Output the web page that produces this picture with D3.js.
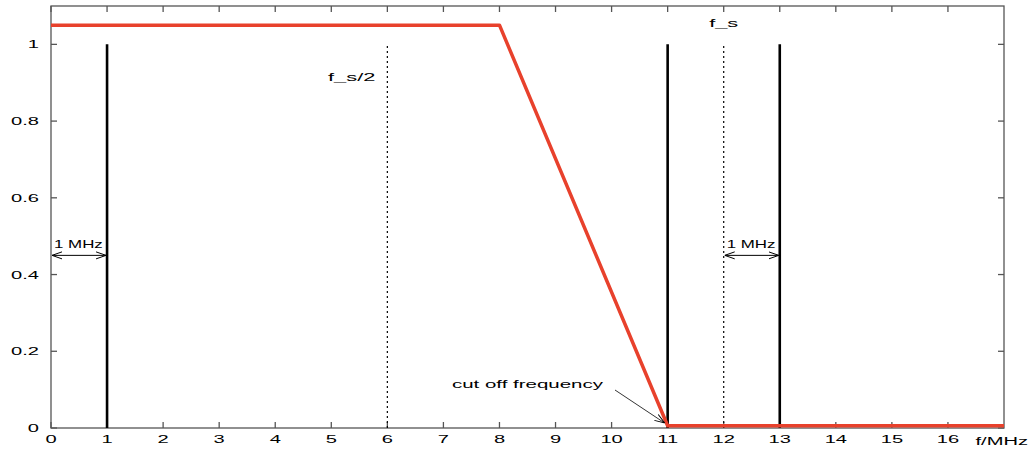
<!DOCTYPE html>
<html><head><meta charset="utf-8">
<script src="https://cdn.jsdelivr.net/npm/d3@7"></script>
<style>body{margin:0;background:#fff}svg{display:block}text{font-family:"Liberation Sans",Arial,sans-serif;font-size:11.5px;fill:#000}</style>
</head><body><svg id="c" width="1029" height="452"></svg>
<script>
const xTicks = [0,1,2,3,4,5,6,7,8,9,10,11,12,13,14,15,16];
const yTicks = [0,0.2,0.4,0.6,0.8,1];
const filterF = [0,8,11,17];
const filterA = [1.05,1.05,0.006,0.006];
const pulseF = [1,11,13];
const pulseA = [1,1,1];
const markF = [6,12];
const markLabels = ["f_s/2","f_s"];
const markLabelY = [0.915,1.055];
const spanFrom = [0,12];
const spanTo = [1,13];
const spanY = 0.45;
const spanLabel = "1 MHz";

const svg = d3.select("#c");
const m = {l:51,r:1004,t:6,b:428};
const x = d3.scaleLinear().domain([0,17]).range([m.l,m.r]);
const y = d3.scaleLinear().domain([0,1.1]).range([m.b,m.t]);
const SX = 1.75;
function txt(px,py,s,anchor,sx){
  return svg.append("g").attr("transform",`translate(${px},${py}) scale(${sx||SX},1)`)
    .append("text").attr("text-anchor",anchor||"start").text(s);
}

const defs = svg.append("defs");
defs.append("marker").attr("id","ah").attr("viewBox","0 0 10 10").attr("refX",10).attr("refY",5)
  .attr("markerWidth",10).attr("markerHeight",10).attr("markerUnits","userSpaceOnUse").attr("orient","auto-start-reverse")
  .append("path").attr("d","M0,1.5 L10,5 L0,8.5").attr("fill","none").attr("stroke","#000").attr("stroke-width",1);

// frame
svg.append("rect").attr("x",m.l).attr("y",m.t).attr("width",m.r-m.l).attr("height",m.b-m.t)
  .attr("fill","none").attr("stroke","#555").attr("stroke-width",1.3);

// ticks
const tl = 6;
const gx = svg.append("g");
xTicks.forEach(v=>{
  gx.append("line").attr("x1",x(v)).attr("x2",x(v)).attr("y1",m.b).attr("y2",m.b-tl).attr("stroke","#555").attr("stroke-width",1.3);
  gx.append("line").attr("x1",x(v)).attr("x2",x(v)).attr("y1",m.t).attr("y2",m.t+tl).attr("stroke","#555").attr("stroke-width",1.3);
  txt(x(v),443,d3.format("d")(v),"middle");
});
yTicks.forEach(v=>{
  gx.append("line").attr("x1",m.l).attr("x2",m.l+tl).attr("y1",y(v)).attr("y2",y(v)).attr("stroke","#555").attr("stroke-width",1.3);
  gx.append("line").attr("x1",m.r).attr("x2",m.r-tl).attr("y1",y(v)).attr("y2",y(v)).attr("stroke","#555").attr("stroke-width",1.3);
  txt(39,y(v)+4,v===0||v===1?String(v):d3.format(".1f")(v),"end");
});
txt(1028,445,"f/MHz","end");

// dotted markers
markF.forEach((f,i)=>{
  svg.append("line").attr("x1",x(f)).attr("x2",x(f)).attr("y1",y(0)).attr("y2",y(1))
    .attr("stroke","#000").attr("stroke-width",1.2).attr("stroke-dasharray","2,3");
});
txt(x(markF[0])-12,y(markLabelY[0])+4,markLabels[0],"end",1.9);
txt(x(markF[1]),y(markLabelY[1])+4,markLabels[1],"middle",1.9);

// pulses
pulseF.forEach((f,i)=>{
  svg.append("line").attr("x1",x(f)).attr("x2",x(f)).attr("y1",y(0)).attr("y2",y(pulseA[i]))
    .attr("stroke","#000").attr("stroke-width",2.6);
});

// spans
spanFrom.forEach((f,i)=>{
  svg.append("line").attr("x1",x(f)+1).attr("x2",x(spanTo[i])-1).attr("y1",y(spanY)).attr("y2",y(spanY))
    .attr("stroke","#000").attr("stroke-width",1).attr("marker-start","url(#ah)").attr("marker-end","url(#ah)");
  txt(x(f)+3,y(spanY)-7,spanLabel,"start",1.47);
});

// filter
svg.append("path").datum(filterF.map((f,i)=>[f,filterA[i]]))
  .attr("d",d3.line().x(d=>x(d[0])).y(d=>y(d[1])))
  .attr("fill","none").attr("stroke","#e8412c").attr("stroke-width",3.5).attr("stroke-linejoin","round");

// cut off annotation
txt(452,388,"cut off frequency","start",1.78);
svg.append("line").attr("x1",615).attr("y1",390).attr("x2",x(11)-3).attr("y2",y(0)-5)
  .attr("stroke","#000").attr("stroke-width",0.8).attr("marker-end","url(#ah)");
</script></body></html>
